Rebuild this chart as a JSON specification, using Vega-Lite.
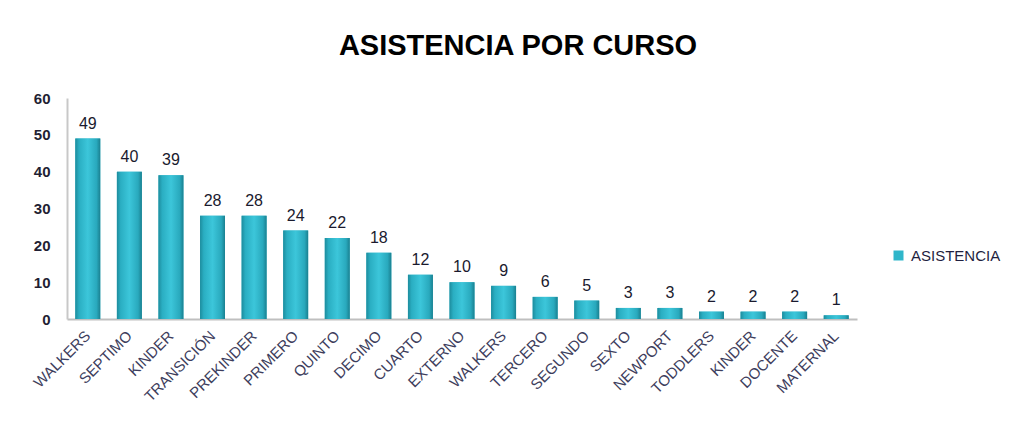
{
  "$schema": "https://vega.github.io/schema/vega-lite/v6.json",
  "width": 790,
  "height": 221,
  "autosize": "none",
  "padding": {"left": 67, "top": 98, "right": 162, "bottom": 113},
  "background": "white",
  "config": {"view": {"stroke": null}, "font": "Liberation Sans"},
  "title": {"text": "ASISTENCIA POR CURSO", "font": "Liberation Sans", "fontSize": 29, "fontWeight": "bold", "color": "#000000", "anchor": "middle", "dx": 56, "offset": 30},
  "data": {"values": [
    {"curso": "WALKERS_1", "asistencia": 49, "serie": "ASISTENCIA"},
    {"curso": "SEPTIMO_2", "asistencia": 40, "serie": "ASISTENCIA"},
    {"curso": "KINDER_3", "asistencia": 39, "serie": "ASISTENCIA"},
    {"curso": "TRANSICIÓN_4", "asistencia": 28, "serie": "ASISTENCIA"},
    {"curso": "PREKINDER_5", "asistencia": 28, "serie": "ASISTENCIA"},
    {"curso": "PRIMERO_6", "asistencia": 24, "serie": "ASISTENCIA"},
    {"curso": "QUINTO_7", "asistencia": 22, "serie": "ASISTENCIA"},
    {"curso": "DECIMO_8", "asistencia": 18, "serie": "ASISTENCIA"},
    {"curso": "CUARTO_9", "asistencia": 12, "serie": "ASISTENCIA"},
    {"curso": "EXTERNO_10", "asistencia": 10, "serie": "ASISTENCIA"},
    {"curso": "WALKERS_11", "asistencia": 9, "serie": "ASISTENCIA"},
    {"curso": "TERCERO_12", "asistencia": 6, "serie": "ASISTENCIA"},
    {"curso": "SEGUNDO_13", "asistencia": 5, "serie": "ASISTENCIA"},
    {"curso": "SEXTO_14", "asistencia": 3, "serie": "ASISTENCIA"},
    {"curso": "NEWPORT_15", "asistencia": 3, "serie": "ASISTENCIA"},
    {"curso": "TODDLERS_16", "asistencia": 2, "serie": "ASISTENCIA"},
    {"curso": "KINDER_17", "asistencia": 2, "serie": "ASISTENCIA"},
    {"curso": "DOCENTE_18", "asistencia": 2, "serie": "ASISTENCIA"},
    {"curso": "MATERNAL_19", "asistencia": 1, "serie": "ASISTENCIA"}
  ]},
  "encoding": {
    "x": {
      "field": "curso", "type": "nominal", "sort": null, "title": null,
      "scale": {"paddingInner": 0.4, "paddingOuter": 0.2},
      "axis": {
        "labelExpr": "split(datum.value, '_')[0]",
        "labelAngle": -45, "labelAlign": "right", "labelBaseline": "middle",
        "labelFontSize": 15, "labelColor": "#3d3d5c", "labelPadding": 14,
        "labelOverlap": false,
        "ticks": false, "domainColor": "#bfbfbf", "domainWidth": 2
      }
    },
    "y": {
      "field": "asistencia", "type": "quantitative", "title": null,
      "scale": {"domain": [0, 60], "nice": false},
      "axis": {"values": [0, 10, 20, 30, 40, 50, 60], "tickCount": 7, "grid": false, "ticks": false, "labelOverlap": false,
        "labelFontSize": 15, "labelFontWeight": "bold", "labelColor": "#1f1f33", "labelPadding": 17,
        "domainColor": "#c8c8c8", "domainWidth": 2}
    }
  },
  "layer": [
    {
      "mark": {"type": "bar"},
      "encoding": {
        "color": {
          "field": "serie", "type": "nominal", "title": null,
          "scale": {"range": ["#2fb6ca"]},
          "legend": {"orient": "none", "legendX": 824, "legendY": 150, "symbolType": "square", "symbolSize": 100,
            "labelFontSize": 15, "labelColor": "#1f1f3f", "labelOffset": 5, "symbolStrokeWidth": 0}
        }
      }
    },
    {
      "mark": {"type": "bar", "color": {"gradient": "linear", "x1": 0, "x2": 1, "y1": 0, "y2": 0,
        "stops": [{"offset": 0, "color": "#1d8c9d"}, {"offset": 0.15, "color": "#2aaec2"}, {"offset": 0.5, "color": "#3cc6da"}, {"offset": 0.85, "color": "#29a9bd"}, {"offset": 1, "color": "#1a8090"}]}},
      "encoding": {}
    },
    {
      "mark": {"type": "text", "baseline": "bottom", "dy": -7, "fontSize": 16, "color": "#1a1a2e"},
      "encoding": {
        "text": {"field": "asistencia", "type": "quantitative"}
      }
    }
  ]
}
